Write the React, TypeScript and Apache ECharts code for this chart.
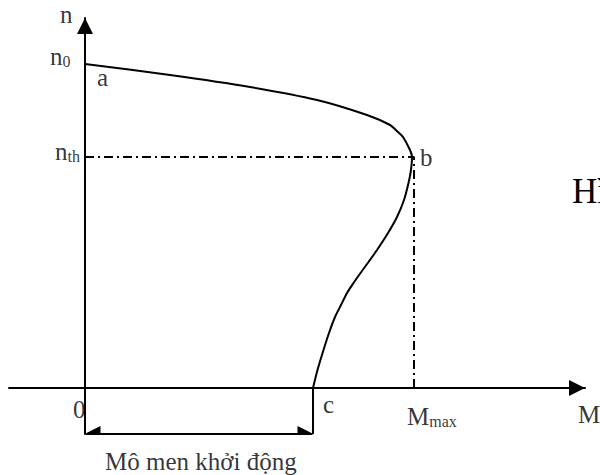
import React, { useEffect, useRef } from "react";
import * as echarts from "echarts";

// Axis ranges (M: torque, n: speed), arbitrary units
const mRange = [-0.76, 5.0];
const nRange = [-0.46, 3.7];

// Mechanical characteristic n = f(M), from a (M=0, n0) through b (Mmax, nth) down to c (start torque, n=0)
const curveM = [0, 0.85, 1.65, 2.32, 2.82, 3.05, 3.13, 3.18, 3.25, 3.27, 3.26, 3.235, 3.19, 3.12, 3.03, 2.92, 2.835, 2.755, 2.685, 2.62, 2.56, 2.5, 2.44, 2.385, 2.325, 2.28];
const curveN = [3.24, 3.13, 3.01, 2.88, 2.73, 2.63, 2.56, 2.51, 2.38, 2.31, 2.18, 2.05, 1.88, 1.71, 1.55, 1.38, 1.26, 1.15, 1.05, 0.95, 0.83, 0.71, 0.55, 0.38, 0.18, 0];

const n0 = 3.24;
const nth = 2.31;
const Mmax = 3.29;
const Mstart = 2.28;
const bracketN = -0.46;

// Label texts (rich-text formatted) and the data points they belong to
const labelTexts = [
  "{m|n}",
  "{m|n}{s|0}",
  "{m|a}",
  "{m|n}{s|th}",
  "{m|b}",
  "{m|0}",
  "{m|c}",
  "{m|M}{s|max}",
  "{m|M}",
  "{m|Mô men khởi động}",
];
const labelAnchors: number[][] = [
  [0, nRange[1]],
  [0, n0],
  [0, n0],
  [0, nth],
  [Mmax, nth],
  [0, 0],
  [Mstart, 0],
  [Mmax, 0],
  [mRange[1], 0],
  [Mstart / 2, bracketN],
];
const figureCaption = "Hình";

// layout (pixel offsets of the labels from their anchors)
const labelOffsets = [
  [-25, -4],
  [-35, -8],
  [12, 13],
  [-30, -6],
  [6, 0],
  [-12, 21],
  [10, 16],
  [-7, 28],
  [-7, 26],
  [-94, 27],
];

const FONT = '"Liberation Serif", "Times New Roman", serif';

export default function App() {
  const ref = useRef<HTMLDivElement>(null);
  useEffect(() => {
    if (!ref.current) return;
    const chart = echarts.init(ref.current, undefined, { renderer: "svg" });
    const arrowHalf = 0.075; // half of the arrow-head length in data units (100 px per unit)
    const axisLine = {
      show: true,
      onZero: true,
      symbol: ["none", "triangle"],
      symbolSize: [16, 16],
      symbolOffset: [0, -8],
      lineStyle: { color: "#000", width: 2 },
    };
    const option: any = {
      animation: false,
      backgroundColor: "#fff",
      textStyle: { fontFamily: FONT },
      grid: { left: 9, right: 15, top: 18, bottom: 41 },
      xAxis: {
        type: "value",
        min: mRange[0],
        max: mRange[1],
        axisLine,
        axisTick: { show: false },
        axisLabel: { show: false },
        splitLine: { show: false },
      },
      yAxis: {
        type: "value",
        min: nRange[0],
        max: nRange[1],
        axisLine,
        axisTick: { show: false },
        axisLabel: { show: false },
        splitLine: { show: false },
      },
      series: [
        {
          type: "line",
          data: curveM.map((m, i) => [m, curveN[i]]),
          smooth: 0.25,
          symbol: "none",
          clip: false,
          lineStyle: { color: "#000", width: 2 },
        },
        {
          type: "line",
          data: [
            [0, nth],
            [Mmax, nth],
            [Mmax, 0],
          ],
          symbol: "none",
          clip: false,
          lineStyle: { color: "#000", width: 2, type: [9, 4, 2, 4] },
        },
        {
          type: "line",
          data: [
            [Mstart, 0],
            [Mstart, bracketN],
          ],
          symbol: "none",
          clip: false,
          lineStyle: { color: "#000", width: 2 },
        },
        {
          type: "lines",
          coordinateSystem: "cartesian2d",
          symbol: ["triangle", "triangle"],
          symbolSize: 16,
          lineStyle: { color: "#000", width: 2, opacity: 1 },
          itemStyle: { color: "#000" },
          data: [
            {
              coords: [
                [0 + arrowHalf, bracketN],
                [Mstart - arrowHalf, bracketN],
              ],
            },
          ],
        },
        {
          type: "scatter",
          symbolSize: 1,
          clip: false,
          itemStyle: { color: "rgba(0,0,0,0)" },
          silent: true,
          data: labelAnchors.map((p, i) => ({
            value: p,
            label: {
              show: true,
              position: "inside",
              offset: labelOffsets[i],
              align: "left",
              verticalAlign: "middle",
              fontFamily: FONT,
              fontSize: 25,
              color: "#000",
              formatter: labelTexts[i],
              rich: {
                m: { fontSize: 25, lineHeight: 26, fontFamily: FONT, color: "#000" },
                s: { fontSize: 16, lineHeight: 12, verticalAlign: "bottom", fontFamily: FONT, color: "#000" },
              },
            },
          })),
        },
      ],
      graphic: [
        {
          type: "text",
          x: 572,
          y: 191,
          style: {
            text: figureCaption,
            font: `35px ${FONT}`,
            fill: "#000",
            verticalAlign: "middle",
          },
        },
      ],
    };
    chart.setOption(option);
    return () => chart.dispose();
  }, []);
  return (
    <div
      ref={ref}
      style={{ position: "absolute", left: 0, top: 0, width: 600, height: 475 }}
    />
  );
}
